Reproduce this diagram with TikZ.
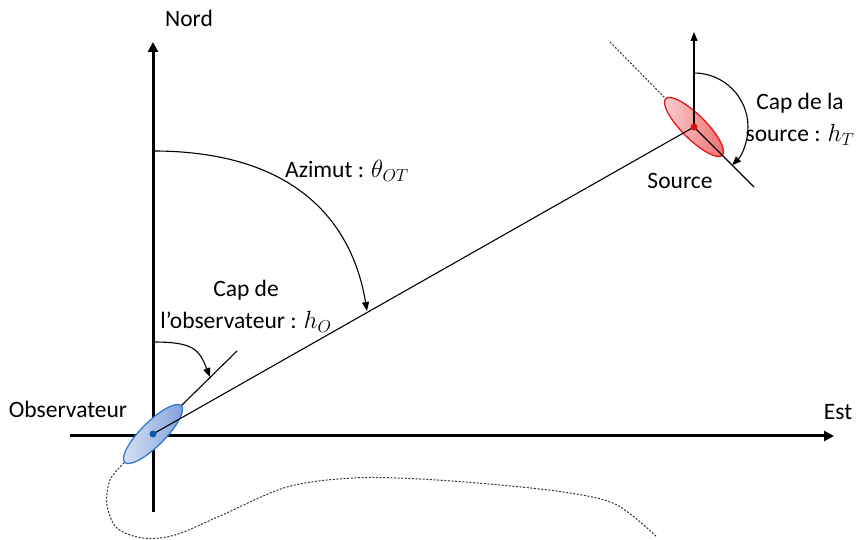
\documentclass[tikz,border=0pt]{standalone}
\usepackage{fontspec}
\setmainfont{Carlito}
\usetikzlibrary{arrows.meta,shapes.geometric}
\definecolor{obsline}{HTML}{2E7BCF}
\definecolor{obslight}{HTML}{DCE5F5}
\definecolor{obsdark}{HTML}{7C9EDC}
\definecolor{obsdot}{HTML}{0A5CB0}
\definecolor{srcline}{HTML}{E8141B}
\definecolor{srclight}{HTML}{FAD4D4}
\definecolor{srcdark}{HTML}{F06A6A}
\definecolor{srcdot}{HTML}{D81010}
\begin{document}
\begin{tikzpicture}[x=1pt,y=1pt,
  axisline/.style={line width=3pt,-{Triangle[length=10pt,width=10pt]}},
  fineline/.style={line width=1.1pt},
  arcarrow/.style={line width=1.1pt,-{Triangle[length=9pt,width=7pt]}},
  dotline/.style={line width=1pt,dash pattern=on 2pt off 1.6pt,black!80},
  lbl/.style={font=\fontsize{23.5}{32}\selectfont,inner sep=0pt,align=center},
  ell/.style={ellipse,minimum width=80pt,minimum height=24pt,inner sep=0pt,line width=1.3pt},
  dotnode/.style={circle,inner sep=0pt,minimum size=7pt}]
\useasboundingbox (0,0) rectangle (857,540);

% axes
\coordinate (xs) at (70,104);
\coordinate (xe) at (834,104);
\coordinate (ys) at (153,28);
\coordinate (ye) at (153,498);
\draw[axisline] (xs) -- (xe);
\draw[axisline] (ys) -- (ye);
\node[lbl] (nord) at (189,522) {Nord};
\node[lbl] (est) at (838,128) {Est};

% key points
\coordinate (O) at (153,106);
\coordinate (S) at (694,413);

% observer ellipse
\node[ell,draw=obsline,left color=obslight,right color=obsdark,rotate=45] (obs) at (O) {};
% source ellipse
\node[ell,draw=srcline,left color=srclight,right color=srcdark,rotate=-45] (src) at (S) {};

% dotted trajectory
\draw[dotline] plot[smooth,tension=0.55] coordinates {(obs.west) (110,60) (107,35) (117,12) (143,2) (175,5) (220,24) (287,53) (353,62) (420,61) (500,55) (570,47) (617,35) (657,3)};

% line of sight
\draw[fineline] (O) -- (S);

% observer heading
\coordinate (hO) at (237,189);
\draw[fineline] (obs.east) -- (hO);

% source heading
\coordinate (hTe) at (754,353);
\coordinate (hTs) at (610,498);
\draw[fineline] (S) -- (hTe);
\draw[dotline] (hTs) -- (src.west);
\coordinate (nT) at (694,508);
\draw[fineline,-{Triangle[length=9pt,width=7pt]}] (S) -- (nT);

% dots
\node[dotnode,fill=obsdot] (odot) at (O) {};
\node[dotnode,fill=srcdot] (sdot) at (S) {};

% arcs
\coordinate (azs) at (153,389);
\coordinate (aze) at (367,229);
\draw[arcarrow] (azs) .. controls (293,389) and (352,320) .. (aze);
\coordinate (hos) at (153,198);
\coordinate (hoe) at (210,163);
\draw[arcarrow] (hos) .. controls (193,198) and (199,191) .. (hoe);
\coordinate (hts) at (694,467);
\draw[arcarrow] (hts) arc[start angle=90,end angle=-45,radius=54];

% labels
\node[lbl] (obslbl) at (68,131) {Observateur};
\node[lbl] (srclbl) at (680,359) {Source};
\node[lbl,anchor=west] (azlbl) at (285,369) {Azimut : $\theta_{OT}$};
\node[lbl] (caplbl) at (246,234) {Cap de\\l’observateur : $h_O$};
\node[lbl] (capslbl) at (800,421) {Cap de la\\source : $h_T$};
\end{tikzpicture}
\end{document}
